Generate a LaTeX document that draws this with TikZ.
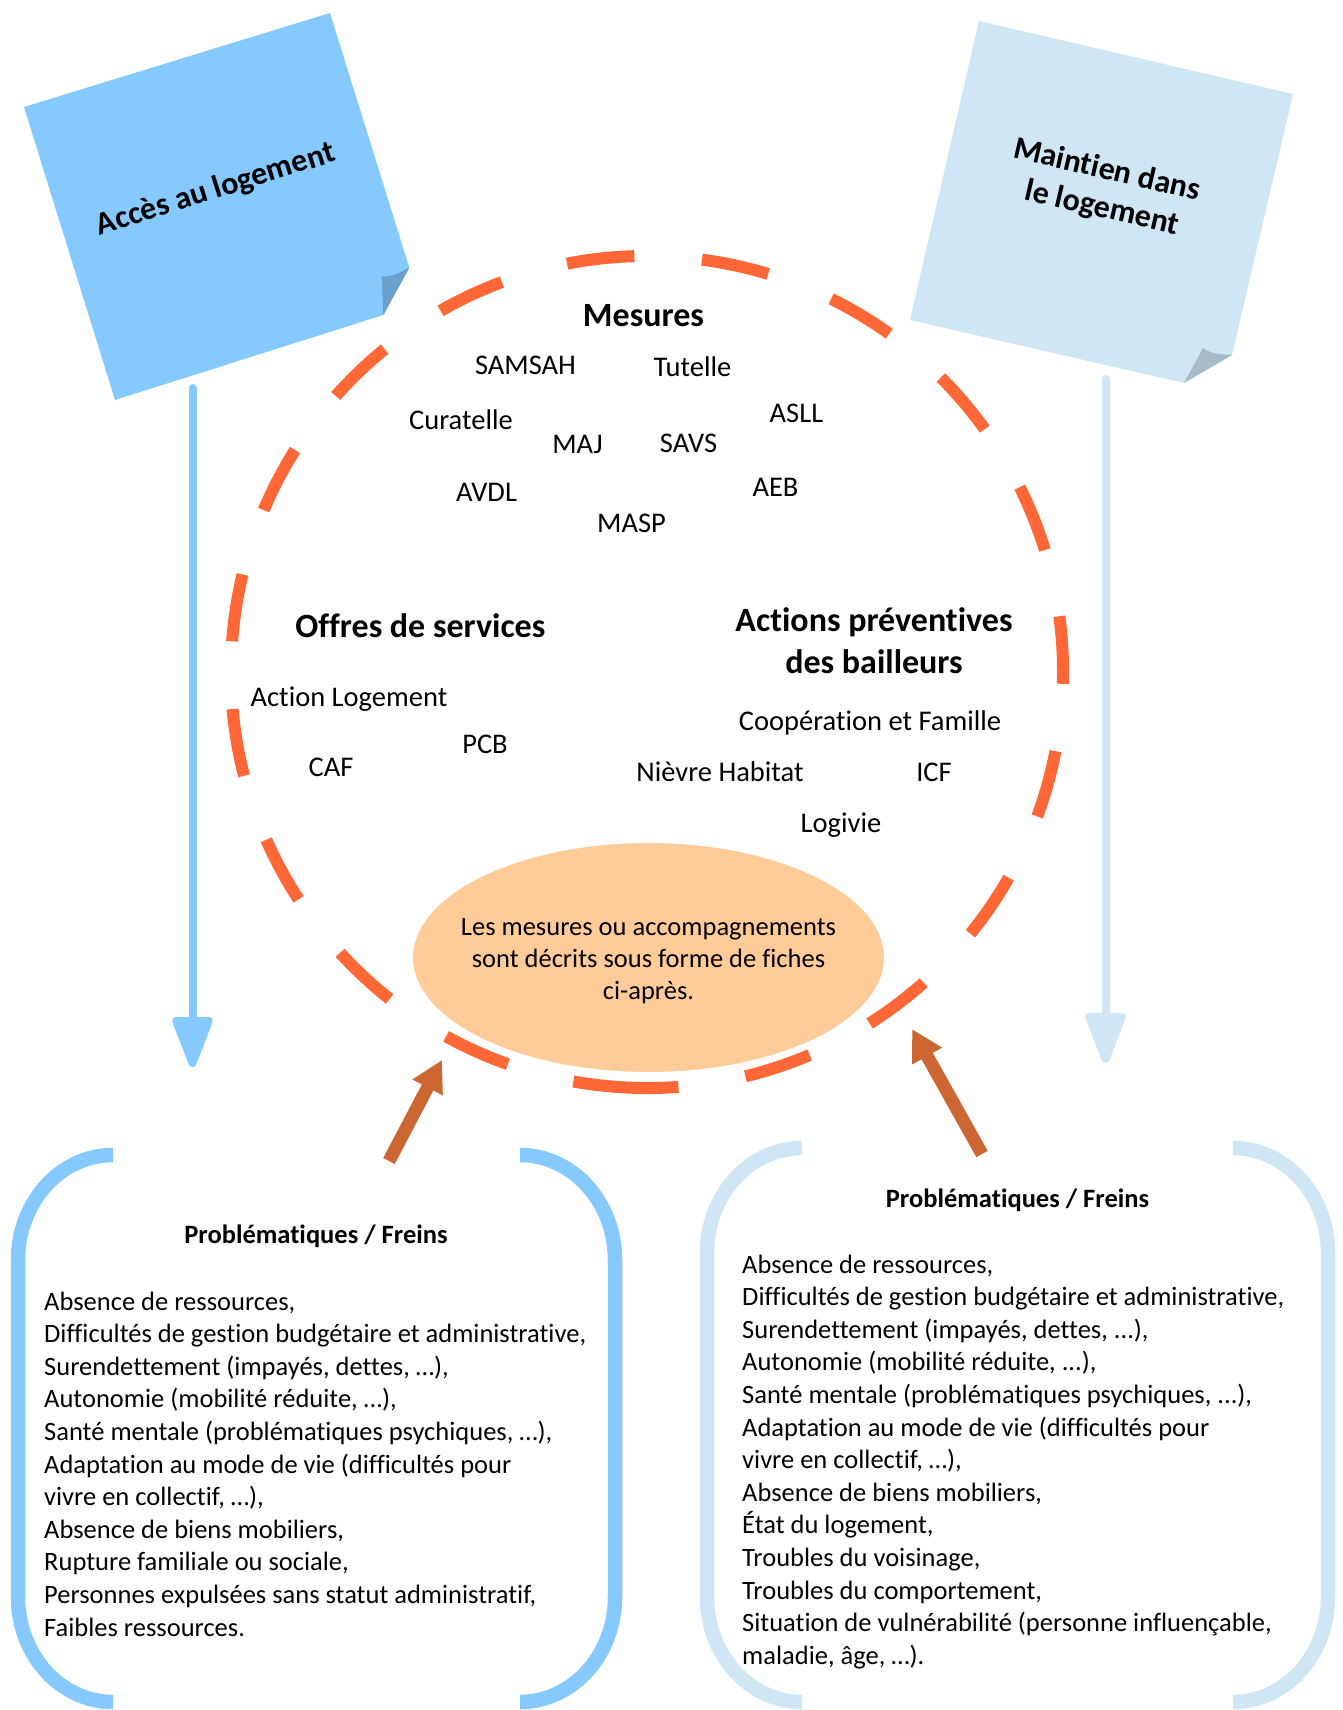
\documentclass[tikz,border=0pt]{standalone}
\usepackage{fontspec}
\setmainfont[Ligatures=NoCommon]{Carlito}
\usetikzlibrary{arrows.meta,shapes.geometric}
\definecolor{notebl}{RGB}{133,201,255}
\definecolor{notelt}{RGB}{207,230,244}
\definecolor{foldbl}{RGB}{106,160,204}
\definecolor{foldlt}{RGB}{168,187,201}
\definecolor{dashor}{RGB}{255,104,54}
\definecolor{peach}{RGB}{255,204,153}
\definecolor{brownar}{RGB}{204,102,51}
\newcommand{\mythreedots}{...}
\begin{document}
\begin{tikzpicture}[x=1pt,y=-1pt,
  lbl/.style={inner sep=0pt, anchor=base, font=\fontsize{28.5}{34}\selectfont},
  headtxt/.style={inner sep=0pt, anchor=base, font=\bfseries\fontsize{34}{41.5}\selectfont},
  notetxt/.style={inner sep=0pt, anchor=base, font=\bfseries\fontsize{32}{39}\selectfont},
  bodytxt/.style={inner sep=0pt, anchor=base west, font=\fontsize{26.5}{32.6}\selectfont},
  titletxt/.style={inner sep=0pt, anchor=base, font=\bfseries\fontsize{26.5}{32.6}\selectfont},
  ringline/.style={draw=dashor, line width=12pt, dash pattern=on 67.8pt off 67.8pt},
  vertarrow/.style={line width=8pt, line cap=round, -{Triangle[length=58pt,width=42pt,round]}},
  brownarrow/.style={draw=brownar, line width=13pt, -{Triangle[length=31pt,width=32pt]}},
  bracket/.style={line width=14.5pt}
]
\useasboundingbox (0,0) rectangle (1343,1710);

% sticky notes
\fill[notebl] (24,107) -- (330,13) -- (409.3,267.7) -- (383.3,315) -- (115,400) -- cycle;
\fill[foldbl] (409.3,267.7) .. controls (398.3,274) and (388.3,277.3) .. (381.7,276.7) -- (383.3,315) -- cycle;
\node[notetxt, rotate=17.5] (acces) at (218.3,198) {Accès au logement};

\fill[notelt] (979,21) -- (1293,94) -- (1232,355) -- (1184,383) -- (910,320) -- cycle;
\fill[foldlt] (1232,355) .. controls (1216.7,354) and (1208.3,352.7) .. (1203,348) -- (1184,383) -- cycle;
\node[notetxt, rotate=-13] (maint1) at (1105,179) {Maintien dans};
\node[notetxt, rotate=-13] (maint2) at (1100,217) {le logement};

% dashed ring
\coordinate (cc) at (647,672);
\draw[ringline] (cc) ++(95:416) arc[start angle=95, end angle=-265, radius=416];

% central ellipse
\node[ellipse, fill=peach, draw=white, line width=2pt, minimum width=473pt, minimum height=231pt, inner sep=0pt] (ell) at (648.5,957.5) {};
\node[inner sep=0pt, align=center, font=\fontsize{26.5}{32.3}\selectfont] (elltxt) at (648.5,961)
  {Les mesures ou accompagnements\\sont décrits sous forme de fiches\\ci-après.};

% labels in the ring
\node[headtxt] (mesures) at (643.5,326) {Mesures};
\node[lbl] (samsah) at (525.5,374) {SAMSAH};
\node[lbl] (tutelle) at (692.5,376) {Tutelle};
\node[lbl] (curatelle) at (461,429) {Curatelle};
\node[lbl] (asll) at (796.5,422) {ASLL};
\node[lbl] (maj) at (577.5,453) {MAJ};
\node[lbl] (savs) at (688.5,452) {SAVS};
\node[lbl] (avdl) at (486.5,501) {AVDL};
\node[lbl] (aeb) at (775.5,496) {AEB};
\node[lbl] (masp) at (631.5,532) {MASP};
\node[headtxt] (offres) at (420.5,637) {Offres de services};
\node[headtxt] (actions1) at (874,631) {Actions préventives};
\node[headtxt] (actions2) at (874,673) {des bailleurs};
\node[lbl] (actlog) at (349,706) {Action Logement};
\node[lbl] (pcb) at (485,753) {PCB};
\node[lbl] (caf) at (331,776) {CAF};
\node[lbl] (coop) at (870,730) {Coopération et Famille};
\node[lbl] (nievre) at (720,781) {Nièvre Habitat};
\node[lbl] (icf) at (934,781) {ICF};
\node[lbl] (logivie) at (841,832) {Logivie};

% vertical arrows
\coordinate (blA) at (192.5,388);
\coordinate (blB) at (192.5,1067);
\draw[vertarrow, draw=notebl, fill=notebl] (blA) -- (blB);
\coordinate (ltA) at (1105.5,379);
\coordinate (ltB) at (1105.5,1063);
\draw[vertarrow, draw=notelt, fill=notelt] (ltA) -- (ltB);

% brown arrows
\coordinate (brA) at (389,1161);
\coordinate (brB) at (442,1060);
\draw[brownarrow, fill=brownar] (brA) -- (brB);
\coordinate (brC) at (982,1154);
\coordinate (brD) at (912,1029);
\draw[brownarrow, fill=brownar] (brC) -- (brD);

% bottom left bracket box
\draw[bracket, draw=notebl] (113,1155) arc[start angle=270, end angle=180, x radius=95, y radius=105]
  -- (18,1597) arc[start angle=180, end angle=90, x radius=95, y radius=105];
\draw[bracket, draw=notebl] (520,1155) arc[start angle=270, end angle=360, x radius=95, y radius=105]
  -- (615,1597) arc[start angle=0, end angle=90, x radius=95, y radius=105];
\node[titletxt] (ltitle) at (316,1243) {Problématiques / Freins};
\foreach \t [count=\i from 0] in {{Absence de ressources,},
  {Difficultés de gestion budgétaire et administrative,},
  {Surendettement (impayés, dettes, …),},
  {Autonomie (mobilité réduite, …),},
  {Santé mentale (problématiques psychiques, …),},
  {Adaptation au mode de vie (difficultés pour},
  {vivre en collectif, …),},
  {Absence de biens mobiliers,},
  {Rupture familiale ou sociale,},
  {Personnes expulsées sans statut administratif,},
  {Faibles ressources.}}
  \node[bodytxt] (lt\i) at (44,1310+32.6*\i) {\t};

% bottom right bracket box
\draw[bracket, draw=notelt] (802,1148) arc[start angle=270, end angle=180, x radius=95, y radius=105]
  -- (707,1597) arc[start angle=180, end angle=90, x radius=95, y radius=105];
\draw[bracket, draw=notelt] (1233,1148) arc[start angle=270, end angle=360, x radius=95, y radius=105]
  -- (1328,1597) arc[start angle=0, end angle=90, x radius=95, y radius=105];
\node[titletxt] (rtitle) at (1017.5,1207) {Problématiques / Freins};
\foreach \t [count=\i from 0] in {{Absence de ressources,},
  {Difficultés de gestion budgétaire et administrative,},
  {Surendettement (impayés, dettes, \mythreedots),},
  {Autonomie (mobilité réduite, \mythreedots),},
  {Santé mentale (problématiques psychiques, \mythreedots),},
  {Adaptation au mode de vie (difficultés pour},
  {vivre en collectif, …),},
  {Absence de biens mobiliers,},
  {État du logement,},
  {Troubles du voisinage,},
  {Troubles du comportement,},
  {Situation de vulnérabilité (personne influençable,},
  {maladie, âge, …).}}
  \node[bodytxt] (rt\i) at (742,1273+32.6*\i) {\t};
\end{tikzpicture}
\end{document}
